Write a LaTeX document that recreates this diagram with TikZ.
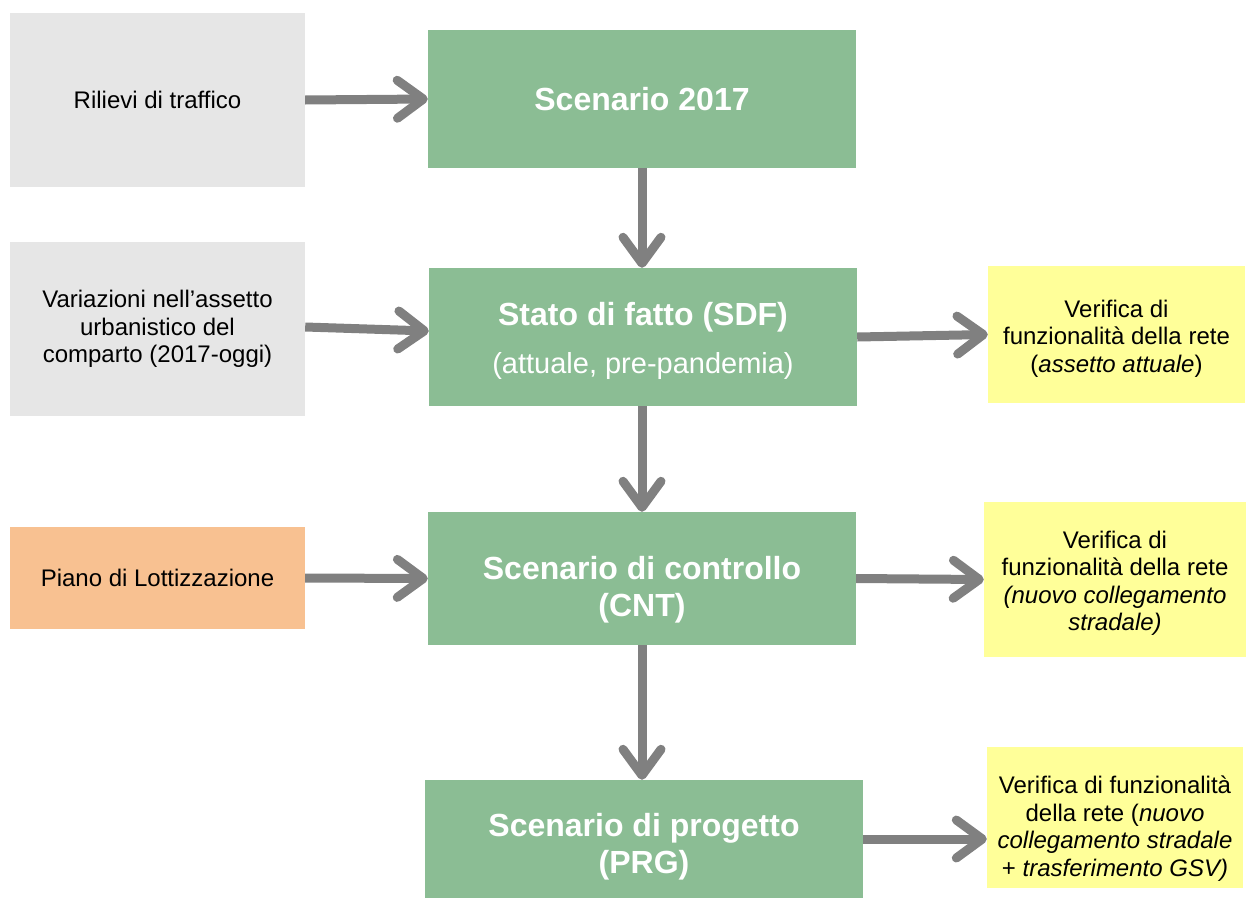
\documentclass[tikz,border=0pt]{standalone}
\usepackage{fontspec}
\setmainfont{Liberation Sans}
\usetikzlibrary{arrows.meta}
\definecolor{boxgreen}{HTML}{8BBD94}
\definecolor{boxgray}{HTML}{E6E6E6}
\definecolor{boxyellow}{HTML}{FFFF99}
\definecolor{boxorange}{HTML}{F8C191}
\definecolor{arrowgray}{HTML}{808080}
\begin{document}
\begin{tikzpicture}[x=1pt,y=-1pt,
  plate/.style={inner sep=0pt},
  inputbox/.style={plate, fill=boxgray, minimum width=295pt, minimum height=174pt},
  mainbox/.style={plate, fill=boxgreen, minimum width=428pt, minimum height=138pt},
  checkbox/.style={plate, fill=boxyellow},
  caption/.style={inner sep=0pt, align=center, font=\fontsize{24}{27.5}\selectfont},
  title/.style={inner sep=0pt, align=center, text=white,
    font=\fontsize{32}{37}\selectfont\bfseries},
  flow/.style={draw=arrowgray, line width=9pt,
    -{Straight Barb[length=26pt,width=38pt,round]}}
]
\useasboundingbox (0,0) rectangle (1246,899);

% left column: inputs
\node[inputbox] (ril) at (157.5,100) {};
\node[inputbox] (var) at (157.5,329) {};
\node[inputbox, fill=boxorange, minimum height=102pt] (pdl) at (157.5,578) {};
\node[caption] (ril-t) at (ril.center) {Rilievi di traffico};
\node[caption] (var-t) at (var.center) {Variazioni nell’assetto\\urbanistico del\\comparto (2017-oggi)};
\node[caption] (pdl-t) at (pdl.center) {Piano di Lottizzazione};

% central column: scenarios
\node[mainbox] (s17) at (642,99) {};
\node[mainbox] (sdf) at (643,337) {};
\node[mainbox, minimum height=133pt] (cnt) at (642,578.5) {};
\node[mainbox, minimum width=438pt, minimum height=118pt] (prg) at (644,839) {};
\node[title] (s17-t) at (s17.center) {Scenario 2017};
\node[title] (sdf-t) at ([yshift=-4pt]sdf.center) {Stato di fatto (SDF)\\[11pt]
  {\fontsize{29}{34}\selectfont\mdseries (attuale, pre-pandemia)}};
\node[title] (cnt-t) at ([yshift=-11pt]cnt.center) {Scenario di controllo\\(CNT)};
\node[title] (prg-t) at ([yshift=-8pt]prg.center) {Scenario di progetto\\(PRG)};

% right column: network checks
\node[checkbox, minimum width=257pt, minimum height=137pt] (v1) at (1116.5,334.5) {};
\node[checkbox, minimum width=262pt, minimum height=155pt] (v2) at (1115,579.5) {};
\node[checkbox, minimum width=256pt, minimum height=141pt] (v3) at (1115,817.5) {};
\node[caption] (v1-t) at ([yshift=-4pt]v1.center)
  {Verifica di\\funzionalità della rete\\(\textit{assetto attuale})};
\node[caption] (v2-t) at ([yshift=-4pt]v2.center)
  {Verifica di\\funzionalità della rete\\\textit{(nuovo collegamento}\\\textit{stradale)}};
\node[caption] (v3-t) at ([yshift=-11pt]v3.center)
  {Verifica di funzionalità\\della rete (\textit{nuovo}\\\textit{collegamento stradale}\\+ \textit{trasferimento GSV)}};

% connectors
\draw[flow] (ril.east) -- (s17.west);
\draw[flow] (s17.south) -- (s17.south |- sdf.north);
\draw[flow] ([yshift=2pt]var.east) -- ([yshift=6pt]sdf.west);
\draw[flow] (sdf.east) -- (v1.west);
\draw[flow] (sdf.south -| s17.south) -- (s17.south |- cnt.north);
\draw[flow] (pdl.east) -- (cnt.west);
\draw[flow] (cnt.east) -- (v2.west);
\draw[flow] (cnt.south) -- (cnt.south |- prg.north);
\draw[flow] (prg.east) -- (prg.east -| v3.west);
\end{tikzpicture}
\end{document}
